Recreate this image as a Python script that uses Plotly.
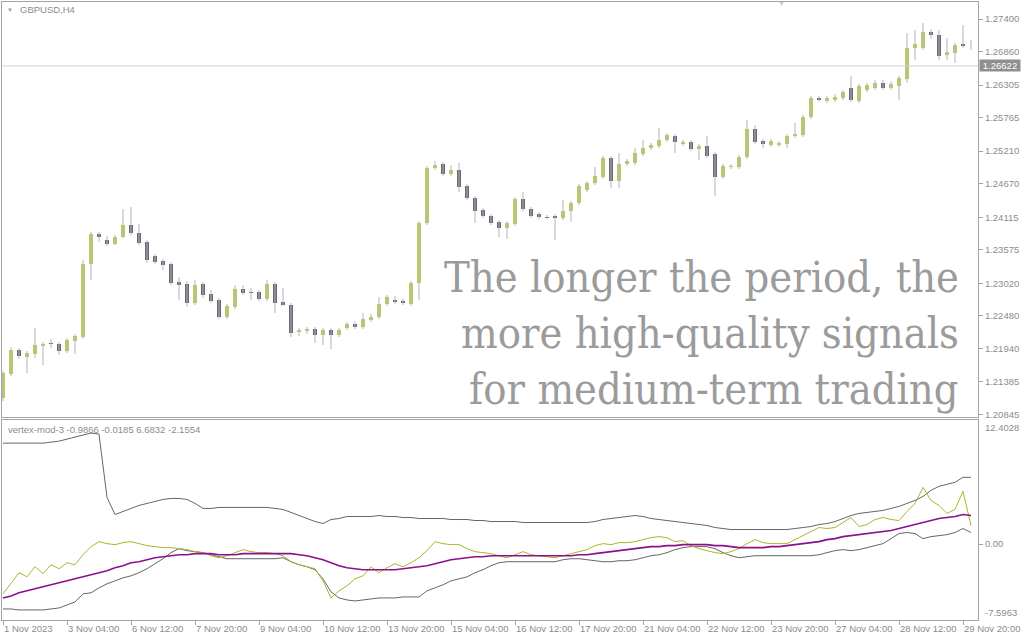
import plotly.graph_objects as go

# ---------------- data ----------------
x_labels = ["1 Nov 2023", "3 Nov 04:00", "6 Nov 12:00", "7 Nov 20:00", "9 Nov 04:00",
            "10 Nov 12:00", "13 Nov 20:00", "15 Nov 04:00", "16 Nov 12:00", "17 Nov 20:00",
            "21 Nov 04:00", "22 Nov 12:00", "23 Nov 20:00", "27 Nov 04:00", "28 Nov 12:00",
            "29 Nov 20:00"]
label_bars = [0, 8, 16, 24, 32, 40, 48, 56, 64, 72, 80, 88, 96, 104, 112, 120]

price_ticks = [1.27400, 1.26860, 1.26305, 1.25765, 1.25210, 1.24670, 1.24115,
               1.23575, 1.23020, 1.22480, 1.21940, 1.21385, 1.20845]
current_price = 1.26622
ind_max = 12.4028
ind_min = -7.5963

open_ = [
    1.21118, 1.21516, 1.21914, 1.21798, 1.21848, 1.21980, 1.22014, 1.22014, 1.21897, 1.22063,
    1.22130, 1.23339, 1.23837, 1.23737, 1.23671, 1.23787, 1.23986, 1.23853, 1.23704, 1.23472,
    1.23389, 1.23339, 1.23041, 1.23008, 1.22693, 1.23008, 1.22842, 1.22743, 1.22461, 1.22627,
    1.22925, 1.22875, 1.22875, 1.22759, 1.23008, 1.22710, 1.22660, 1.22212, 1.22229, 1.22262,
    1.22163, 1.22246, 1.22163, 1.22279, 1.22345, 1.22295, 1.22411, 1.22461, 1.22676, 1.22743,
    1.22726, 1.22676, 1.23025, 1.24019, 1.24930, 1.24997, 1.24831, 1.24897, 1.24632, 1.24433,
    1.24234, 1.24135, 1.24036, 1.23936, 1.24002, 1.24417, 1.24251, 1.24168, 1.24118, 1.24135,
    1.24102, 1.24218, 1.24350, 1.24566, 1.24682, 1.24781, 1.25096, 1.24715, 1.24997, 1.25013,
    1.25163, 1.25262, 1.25295, 1.25395, 1.25461, 1.25328, 1.25361, 1.25245, 1.25295, 1.25163,
    1.24781, 1.24947, 1.24947, 1.25113, 1.25577, 1.25378, 1.25312, 1.25312, 1.25328, 1.25461,
    1.25477, 1.25776, 1.26091, 1.26041, 1.26058, 1.26091, 1.26256, 1.26041, 1.26223, 1.26256,
    1.26339, 1.26256, 1.26290, 1.26406, 1.26919, 1.26919, 1.27185, 1.27135, 1.26803, 1.26837,
    1.26986, 1.26936]

high = [
    1.21566, 1.21964, 1.21947, 1.21897, 1.22279, 1.22047, 1.22096, 1.22047, 1.22113, 1.22179,
    1.23406, 1.23870, 1.23870, 1.23803, 1.23820, 1.24251, 1.24284, 1.24002, 1.23737, 1.23505,
    1.23422, 1.23372, 1.23124, 1.23058, 1.23074, 1.23041, 1.22908, 1.22776, 1.22676, 1.22991,
    1.22991, 1.22942, 1.22908, 1.23074, 1.23041, 1.22942, 1.22693, 1.22279, 1.22295, 1.22295,
    1.22279, 1.22279, 1.22279, 1.22378, 1.22395, 1.22527, 1.22511, 1.22792, 1.22826, 1.22809,
    1.22759, 1.23058, 1.24052, 1.24964, 1.25046, 1.25030, 1.24980, 1.25013, 1.24665, 1.24466,
    1.24268, 1.24168, 1.24069, 1.24052, 1.24450, 1.24533, 1.24284, 1.24201, 1.24152, 1.24168,
    1.24400, 1.24384, 1.24665, 1.24715, 1.24947, 1.25129, 1.25129, 1.25179, 1.25080, 1.25262,
    1.25395, 1.25345, 1.25593, 1.25511, 1.25494, 1.25395, 1.25395, 1.25328, 1.25461, 1.25196,
    1.24997, 1.24997, 1.25146, 1.25726, 1.25643, 1.25411, 1.25411, 1.25378, 1.25494, 1.25676,
    1.25809, 1.26124, 1.26124, 1.26124, 1.26157, 1.26223, 1.26455, 1.26323, 1.26339, 1.26389,
    1.26389, 1.26373, 1.26455, 1.27168, 1.27218, 1.27334, 1.27234, 1.27218, 1.27085, 1.27002,
    1.27301, 1.27052]

low = [
    1.21069, 1.21483, 1.21765, 1.21533, 1.21781, 1.21665, 1.21947, 1.21831, 1.21864, 1.21848,
    1.22096, 1.23074, 1.23704, 1.23638, 1.23654, 1.23770, 1.23820, 1.23654, 1.23356, 1.23339,
    1.23240, 1.22991, 1.22743, 1.22627, 1.22660, 1.22776, 1.22693, 1.22428, 1.22428, 1.22594,
    1.22826, 1.22743, 1.22726, 1.22726, 1.22527, 1.22643, 1.22130, 1.22146, 1.22179, 1.22030,
    1.21997, 1.21931, 1.22130, 1.22246, 1.22262, 1.22262, 1.22378, 1.22428, 1.22643, 1.22676,
    1.22660, 1.22643, 1.22743, 1.23986, 1.24897, 1.24798, 1.24798, 1.24533, 1.24400, 1.24019,
    1.24102, 1.23986, 1.23787, 1.23754, 1.23969, 1.24218, 1.24102, 1.24085, 1.24085, 1.23737,
    1.24069, 1.24036, 1.24317, 1.24533, 1.24649, 1.24748, 1.24599, 1.24599, 1.24964, 1.24980,
    1.25129, 1.25229, 1.25262, 1.25361, 1.25179, 1.25295, 1.25212, 1.25063, 1.25096, 1.24466,
    1.24748, 1.24914, 1.24914, 1.25080, 1.25328, 1.25262, 1.25279, 1.25279, 1.25262, 1.25428,
    1.25444, 1.25743, 1.26024, 1.26008, 1.26024, 1.26058, 1.26024, 1.26008, 1.26190, 1.26223,
    1.26223, 1.26223, 1.26058, 1.26339, 1.26720, 1.26886, 1.27069, 1.26720, 1.26720, 1.26671,
    1.26919, 1.26886]

close = [
    1.21533, 1.21914, 1.21815, 1.21864, 1.21997, 1.22014, 1.22014, 1.21897, 1.22080, 1.22146,
    1.23339, 1.23837, 1.23787, 1.23671, 1.23787, 1.23986, 1.23853, 1.23687, 1.23406, 1.23372,
    1.23323, 1.23025, 1.22991, 1.22693, 1.22991, 1.22826, 1.22726, 1.22461, 1.22643, 1.22925,
    1.22859, 1.22875, 1.22759, 1.23008, 1.22693, 1.22660, 1.22196, 1.22246, 1.22262, 1.22163,
    1.22246, 1.22163, 1.22246, 1.22345, 1.22295, 1.22428, 1.22461, 1.22676, 1.22792, 1.22710,
    1.22693, 1.23025, 1.24019, 1.24930, 1.24980, 1.24831, 1.24897, 1.24616, 1.24433, 1.24218,
    1.24135, 1.24019, 1.23936, 1.24019, 1.24417, 1.24251, 1.24135, 1.24118, 1.24118, 1.24102,
    1.24218, 1.24350, 1.24632, 1.24682, 1.24798, 1.25096, 1.24715, 1.24997, 1.25046, 1.25179,
    1.25262, 1.25312, 1.25395, 1.25477, 1.25361, 1.25361, 1.25245, 1.25295, 1.25129, 1.24781,
    1.24964, 1.24964, 1.25113, 1.25577, 1.25361, 1.25328, 1.25378, 1.25345, 1.25461, 1.25494,
    1.25776, 1.26091, 1.26058, 1.26091, 1.26107, 1.26190, 1.26058, 1.26290, 1.26306, 1.26339,
    1.26256, 1.26323, 1.26422, 1.26919, 1.26986, 1.27185, 1.27135, 1.26787, 1.26853, 1.26969,
    1.26953, 1.26936]

band_upper = [
    10.09, 10.09, 10.09, 10.09, 10.09, 10.09, 10.19, 10.29, 10.49, 10.69,
    10.89, 11.10, 10.99, 4.66, 2.95, 3.26, 3.56, 3.86, 4.06, 4.26,
    4.46, 4.56, 4.56, 4.46, 4.06, 3.56, 3.56, 3.66, 3.66, 3.66,
    3.66, 3.66, 3.66, 3.66, 3.56, 3.46, 3.16, 2.85, 2.55, 2.25,
    2.05, 2.45, 2.55, 2.75, 2.75, 2.75, 2.75, 2.85, 2.75, 2.75,
    2.65, 2.65, 2.55, 2.55, 2.55, 2.55, 2.45, 2.45, 2.45, 2.35,
    2.35, 2.25, 2.25, 2.25, 2.25, 2.15, 2.15, 2.15, 2.15, 2.15,
    2.15, 2.15, 2.15, 2.15, 2.25, 2.45, 2.55, 2.65, 2.75, 2.85,
    2.75, 2.55, 2.45, 2.35, 2.25, 2.15, 2.05, 1.95, 1.85, 1.65,
    1.55, 1.45, 1.45, 1.45, 1.45, 1.45, 1.45, 1.45, 1.45, 1.55,
    1.65, 1.75, 1.95, 2.05, 2.25, 2.55, 2.85, 3.06, 3.16, 3.26,
    3.36, 3.56, 3.76, 4.06, 4.36, 4.76, 5.37, 5.77, 5.97, 6.17,
    6.67, 6.67]

band_lower = [
    -6.49, -6.49, -6.59, -6.59, -6.59, -6.59, -6.49, -6.39, -6.09, -5.79,
    -4.98, -4.88, -4.38, -3.98, -3.68, -3.38, -3.18, -2.87, -2.47, -1.97,
    -1.47, -0.86, -0.46, -0.66, -0.76, -0.86, -1.07, -1.27, -1.47, -1.47,
    -1.47, -1.47, -1.47, -1.47, -1.47, -1.37, -1.77, -2.07, -2.27, -2.57,
    -3.48, -4.78, -5.39, -5.59, -5.69, -5.59, -5.49, -5.39, -5.39, -5.39,
    -5.29, -5.29, -5.29, -4.68, -4.38, -4.08, -3.68, -3.48, -3.28, -2.87,
    -2.57, -2.17, -1.87, -1.77, -1.77, -1.77, -1.77, -1.77, -1.77, -1.77,
    -1.57, -1.47, -1.47, -1.57, -1.67, -1.77, -1.77, -1.67, -1.67, -1.57,
    -1.37, -1.17, -1.07, -0.86, -0.56, -0.36, -0.26, -0.26, -0.26, -0.46,
    -0.86, -1.17, -1.37, -1.27, -1.17, -1.17, -1.17, -1.17, -1.17, -1.17,
    -1.17, -1.17, -1.07, -0.86, -0.66, -0.56, -0.66, -0.56, -0.36, -0.16,
    0.04, 0.54, 1.05, 1.15, 1.05, 0.54, 0.74, 0.84, 0.94, 1.15,
    1.55, 1.15]

signal_line = [
    -5.39, -5.19, -4.88, -4.68, -4.48, -4.28, -4.08, -3.88, -3.68, -3.48,
    -3.28, -3.08, -2.87, -2.67, -2.37, -2.17, -1.87, -1.77, -1.57, -1.37,
    -1.27, -1.17, -1.07, -1.07, -0.96, -0.96, -0.96, -1.07, -1.07, -1.07,
    -0.96, -0.96, -0.96, -0.96, -0.96, -0.96, -0.96, -1.07, -1.17, -1.37,
    -1.57, -1.87, -2.17, -2.37, -2.47, -2.57, -2.57, -2.57, -2.57, -2.57,
    -2.47, -2.37, -2.27, -2.17, -1.97, -1.77, -1.57, -1.47, -1.37, -1.27,
    -1.27, -1.17, -1.17, -1.17, -1.17, -1.17, -1.17, -1.17, -1.17, -1.17,
    -1.17, -1.17, -1.07, -1.07, -0.96, -0.86, -0.76, -0.66, -0.56, -0.46,
    -0.36, -0.26, -0.26, -0.16, -0.16, -0.06, -0.06, -0.06, -0.06, -0.16,
    -0.16, -0.26, -0.36, -0.36, -0.36, -0.36, -0.26, -0.26, -0.16, -0.06,
    0.04, 0.14, 0.24, 0.44, 0.54, 0.74, 0.84, 0.94, 1.05, 1.15,
    1.25, 1.35, 1.55, 1.75, 1.95, 2.15, 2.35, 2.55, 2.65, 2.75,
    2.95, 2.85]

vertex_line = [
    -4.98, -3.88, -2.87, -3.28, -2.27, -2.97, -2.07, -2.47, -1.87, -2.07,
    -1.07, -0.26, 0.24, 0.04, -0.06, 0.14, 0.24, 0.04, -0.16, -0.26,
    -0.36, -0.36, -0.46, -0.56, -0.76, -0.86, -1.17, -1.37, -1.17, -0.86,
    -0.56, -0.76, -0.86, -0.86, -0.96, -1.17, -1.77, -2.07, -2.27, -2.47,
    -3.68, -5.39, -4.68, -4.18, -3.48, -3.18, -2.27, -2.87, -2.37, -1.97,
    -2.27, -1.87, -1.37, -0.66, 0.24, 0.04, -0.06, -0.06, -0.46, -0.76,
    -0.86, -0.96, -1.17, -1.37, -1.07, -0.76, -1.07, -1.17, -1.27, -1.37,
    -1.17, -0.96, -0.76, -0.56, -0.16, 0.04, -0.06, 0.14, 0.14, 0.24,
    0.44, 0.64, 0.74, 0.64, 0.24, 0.34, -0.16, -0.46, -0.66, -0.86,
    -0.96, -0.76, -0.46, 0.04, 0.44, 0.14, 0.04, 0.04, 0.04, 0.44,
    0.84, 1.25, 1.65, 1.55, 1.65, 2.15, 2.65, 1.75, 1.95, 2.45,
    2.65, 2.45, 2.35, 3.26, 4.06, 5.67, 4.36, 3.86, 3.06, 3.46,
    5.27, 1.85]

bars = list(range(len(open_)))

# ---------------- style ----------------
GREEN = "#b8cc5a"
DARK = "#6c6572"
WICK = "#b9b4bd"
AXC = "#a3a3a3"
TXT = "#8c8c8c"
AXFONT = dict(family="Liberation Sans, Arial, sans-serif", size=9.5, color=TXT)

W, H = 1024, 640
ML, MR, MT, MB = 2, 46, 2, 20
PW, PH = W - ML - MR, H - MT - MB


def px_x(px):
    return (px - ML) / PW


def px_y(py):
    return (H - MB - py) / PH


main_bottom = px_y(417)
ind_top = px_y(420)

fig = go.Figure()

# wicks
wx, wy = [], []
for i in bars:
    wx += [i, i, None]
    wy += [low[i], high[i], None]
fig.add_trace(go.Scatter(x=wx, y=wy, mode="lines", line=dict(color=WICK, width=1),
                         xaxis="x", yaxis="y", hoverinfo="skip"))

# bodies
min_h = 0.00016
body_base, body_h, body_col = [], [], []
for o, c in zip(open_, close):
    lo, hi = min(o, c), max(o, c)
    h = hi - lo
    if h < min_h:
        lo -= (min_h - h) / 2
        h = min_h
    body_base.append(lo)
    body_h.append(h)
    body_col.append(GREEN if c > o else DARK)
fig.add_trace(go.Bar(x=bars, y=body_h, base=body_base, width=0.62,
                     marker=dict(color=body_col, line=dict(width=0)),
                     xaxis="x", yaxis="y", hoverinfo="skip"))

# indicator
fig.add_trace(go.Scatter(x=bars, y=band_upper, mode="lines", line=dict(color="#666666", width=1),
                         xaxis="x2", yaxis="y2"))
fig.add_trace(go.Scatter(x=bars, y=band_lower, mode="lines", line=dict(color="#666666", width=1),
                         xaxis="x2", yaxis="y2"))
fig.add_trace(go.Scatter(x=bars, y=vertex_line, mode="lines", line=dict(color="#b3b32a", width=1),
                         xaxis="x2", yaxis="y2"))
fig.add_trace(go.Scatter(x=bars, y=signal_line, mode="lines", line=dict(color="#8e0e8e", width=1.6),
                         xaxis="x2", yaxis="y2"))

xr = [-0.125, len(bars) - 0.125]

fig.update_layout(
    width=W, height=H, margin=dict(l=ML, r=MR, t=MT, b=MB, autoexpand=False),
    paper_bgcolor="white", plot_bgcolor="white", showlegend=False,
    barmode="overlay", bargap=0,
    xaxis=dict(domain=[0, 1], anchor="y", range=xr, showticklabels=False, showgrid=False,
               zeroline=False, showline=True, mirror=True, linecolor=AXC, linewidth=1, ticks=""),
    yaxis=dict(domain=[main_bottom, 1], anchor="x", side="right",
               range=[1.208036, 1.276818], tickvals=price_ticks,
               ticktext=[f"{v:.5f}" for v in price_ticks],
               ticks="outside", ticklen=4, tickcolor=AXC, tickfont=AXFONT,
               showline=True, mirror=True, linecolor=AXC, linewidth=1,
               showgrid=False, zeroline=False),
    xaxis2=dict(domain=[0, 1], anchor="y2", range=xr, tickvals=label_bars, ticktext=x_labels,
                ticks="outside", ticklen=4, tickcolor=AXC, tickfont=AXFONT,
                ticklabelposition="outside right", tickangle=0,
                showline=True, mirror=True, linecolor=AXC, linewidth=1,
                showgrid=False, zeroline=False),
    yaxis2=dict(domain=[0, ind_top], anchor="x2", side="right",
                range=[ind_min, ind_max], tickvals=[0], ticktext=["0.00"],
                ticks="outside", ticklen=4, tickcolor=AXC, tickfont=AXFONT,
                showline=True, mirror=True, linecolor=AXC, linewidth=1,
                showgrid=False, zeroline=False),
)

# current price line
fig.add_shape(type="line", xref="x domain", yref="y", x0=0, x1=1, y0=current_price, y1=current_price,
              line=dict(color="#cfcfcf", width=1))

ann = []
ann.append(dict(xref="paper", yref="y", x=1, y=current_price, xanchor="left", yanchor="middle",
                text=f"{current_price:.5f}", showarrow=False, bgcolor="#8f8f8f",
                font=dict(family="Liberation Sans, Arial, sans-serif", size=9.5, color="white"),
                width=40, borderpad=0, xshift=1))
ann.append(dict(xref="paper", yref="y2", x=1, y=ind_max, xanchor="left", yanchor="top",
                text=f"{ind_max:.4f}", showarrow=False, font=AXFONT, xshift=5))
ann.append(dict(xref="paper", yref="y2", x=1, y=ind_min, xanchor="left", yanchor="bottom",
                text=f"{ind_min:.4f}", showarrow=False, font=AXFONT, xshift=5))
ann.append(dict(xref="paper", yref="paper", x=px_x(5), y=px_y(10), xanchor="left", yanchor="middle",
                text="▼", showarrow=False, font=dict(size=6, color="#999999")))
ann.append(dict(xref="paper", yref="paper", x=px_x(18), y=px_y(10), xanchor="left", yanchor="middle",
                text="GBPUSD,H4", showarrow=False, font=AXFONT))
ann.append(dict(xref="paper", yref="paper", x=px_x(781), y=px_y(4), xanchor="center", yanchor="middle",
                text="▼", showarrow=False, font=dict(size=7, color="#cccccc")))
ann.append(dict(xref="paper", yref="paper", x=px_x(6), y=px_y(429), xanchor="left", yanchor="middle",
                text="vertex-mod-3 -0.9866 -0.0185 6.6832 -2.1554", showarrow=False, font=AXFONT))

big_lines = ["The longer the period, the", "more high-quality signals", "for medium-term trading"]
big_y = [277, 333, 389]
BIGFONT = dict(family="DejaVu Serif Condensed, DejaVu Serif, serif", size=43, color="#9b9b9b")
for t, yy in zip(big_lines, big_y):
    ann.append(dict(xref="paper", yref="paper", x=px_x(961), y=px_y(yy), xanchor="right",
                    yanchor="middle", text=t, showarrow=False, font=BIGFONT))

fig.update_layout(annotations=ann)
fig.write_html("out.html", config={"displayModeBar": False, "staticPlot": True},
               post_script="document.body.style.margin='0';document.body.style.overflow='hidden';")
